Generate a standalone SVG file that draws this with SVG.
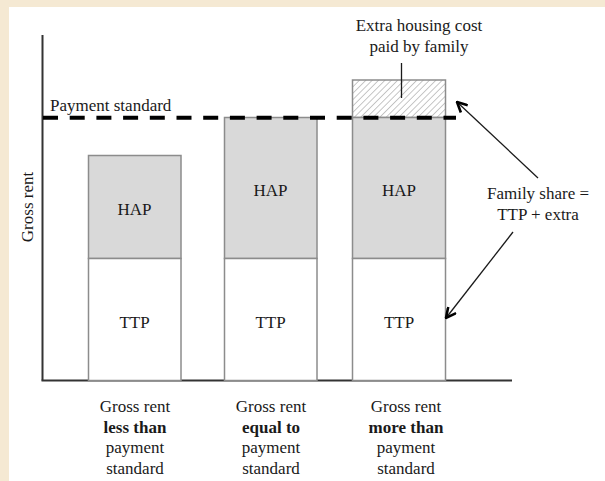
<svg xmlns="http://www.w3.org/2000/svg" width="605" height="481" viewBox="0 0 605 481">
<style>
text{font-family:"Liberation Serif","Times New Roman",serif;fill:#1a1a1a}
.lbl{font-size:17px;text-anchor:middle}
.bar{stroke:#8c8c8c;stroke-width:1.5}
.hap{fill:#d9d9d9}
.ttp{fill:#ffffff}
.axis{stroke:#333;stroke-width:2;fill:none}
.conn{stroke:#1a1a1a;stroke-width:1.3;fill:none}
</style>
<defs>
<pattern id="hatch" width="4.5" height="4.5" patternUnits="userSpaceOnUse" patternTransform="rotate(45)">
<rect width="4.5" height="4.5" fill="#fff"/>
<line x1="0" y1="0" x2="0" y2="4.5" stroke="#8f8f8f" stroke-width="1"/>
</pattern>
<marker id="ah" viewBox="0 0 12 12" refX="11" refY="6" markerWidth="12" markerHeight="12" markerUnits="userSpaceOnUse" orient="auto">
<path d="M1,1 L11,6 L1,11" fill="none" stroke="#000" stroke-width="2.6" stroke-linejoin="miter"/>
</marker>
</defs>
<rect width="605" height="481" fill="#f5e9d3"/>
<rect x="9" y="7" width="596" height="474" fill="#ffffff"/>

<g id="axes">
<line class="axis" x1="42.5" y1="35" x2="42.5" y2="380.5"/>
<line class="axis" x1="41.5" y1="380.5" x2="512" y2="380.5"/>
<text class="lbl" transform="translate(33,207) rotate(-90)">Gross rent</text>
</g>

<g id="bar1">
<rect class="bar hap" x="88.5" y="155.5" width="92.5" height="103"/>
<rect class="bar ttp" x="88.5" y="258.5" width="92.5" height="122"/>
<text class="lbl" x="134.5" y="215">HAP</text>
<text class="lbl" x="134.5" y="328">TTP</text>
</g>

<g id="bar2">
<rect class="bar hap" x="224.5" y="117.5" width="92.5" height="141"/>
<rect class="bar ttp" x="224.5" y="258.5" width="92.5" height="122"/>
<text class="lbl" x="270.5" y="196">HAP</text>
<text class="lbl" x="270.5" y="328">TTP</text>
</g>

<g id="bar3">
<rect class="bar" fill="url(#hatch)" x="352.5" y="80" width="93" height="37.5"/>
<rect class="bar hap" x="352.5" y="117.5" width="93" height="141"/>
<rect class="bar ttp" x="352.5" y="258.5" width="93" height="122"/>
<text class="lbl" x="399" y="196">HAP</text>
<text class="lbl" x="399" y="328">TTP</text>
</g>

<g id="payment-standard">
<line x1="43" y1="117.7" x2="456" y2="117.7" stroke="#000" stroke-width="4" stroke-dasharray="15 11.7"/>
<text x="50" y="111" style="font-size:17px">Payment standard</text>
</g>

<g id="extra-label">
<text class="lbl" x="419" y="31">Extra housing cost</text>
<text class="lbl" x="419" y="51.5">paid by family</text>
</g>

<g id="family-share-label">
<text class="lbl" x="538" y="199">Family share =</text>
<text class="lbl" x="538" y="220">TTP + extra</text>
</g>

<g id="captions">
<text class="lbl" x="135" y="412">Gross rent</text>
<text class="lbl" x="135" y="432.5" font-weight="bold">less than</text>
<text class="lbl" x="135" y="453">payment</text>
<text class="lbl" x="135" y="473.5">standard</text>
<text class="lbl" x="271" y="412">Gross rent</text>
<text class="lbl" x="271" y="432.5" font-weight="bold">equal to</text>
<text class="lbl" x="271" y="453">payment</text>
<text class="lbl" x="271" y="473.5">standard</text>
<text class="lbl" x="406" y="412">Gross rent</text>
<text class="lbl" x="406" y="432.5" font-weight="bold">more than</text>
<text class="lbl" x="406" y="453">payment</text>
<text class="lbl" x="406" y="473.5">standard</text>
</g>

<g id="connectors">
<line class="conn" x1="401.5" y1="63" x2="401.5" y2="98"/>
<line class="conn" x1="538" y1="178" x2="457" y2="102" marker-end="url(#ah)"/>
<line class="conn" x1="513" y1="232" x2="446" y2="318" marker-end="url(#ah)"/>
</g>
</svg>
